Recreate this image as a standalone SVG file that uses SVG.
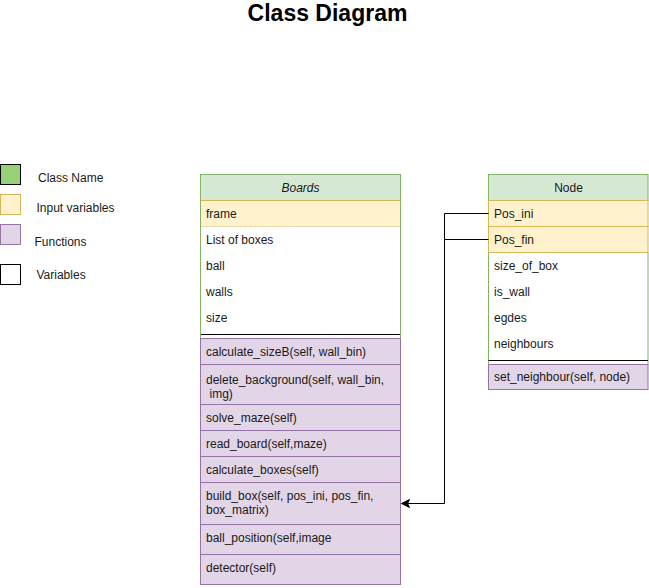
<svg xmlns="http://www.w3.org/2000/svg" width="649" height="588" viewBox="0 0 649 588">
<style>
text{font-family:"Liberation Sans",Arial,sans-serif;font-size:12px;fill:#1a1a1a}
.title{font-size:23px;font-weight:bold;fill:#000}
.hdr{fill:#d5e8d4;stroke:#82b366}
.inp{fill:#fff2cc;stroke:#d6b656}
.fn{fill:#e1d5e7;stroke:#9673a6}
.sep{stroke:#000;stroke-width:1}
.c{text-anchor:middle}
.conn{fill:none;stroke:#000;stroke-width:1}
</style>
<defs>
<marker id="arr" markerWidth="10" markerHeight="10" refX="9" refY="5" orient="auto" markerUnits="userSpaceOnUse">
<path d="M1,1 L9,5 L1,9 L3,5 Z" fill="#000" stroke="#000" stroke-width="1"/>
</marker>
</defs>
<rect width="649" height="588" fill="#fff"/>
<text class="title c" x="327.5" y="21">Class Diagram</text>

<g id="legend">
<rect x="0.5" y="164.5" width="20" height="20" fill="#97d077" stroke="#000"/>
<text x="38" y="182">Class Name</text>
<rect x="0.5" y="194.5" width="20" height="20" class="inp"/>
<text x="36.5" y="212">Input variables</text>
<rect x="0.5" y="224.5" width="20" height="20" class="fn"/>
<text x="34.5" y="245.5">Functions</text>
<rect x="0.5" y="264.5" width="20" height="20" fill="#fff" stroke="#000"/>
<text x="36.5" y="278.5">Variables</text>
</g>

<g id="boards">
<rect x="200.5" y="174.5" width="200" height="26" class="hdr"/>
<text class="c" x="300.5" y="191.5" font-style="italic">Boards</text>
<rect x="200.5" y="200.5" width="200" height="26" class="inp"/>
<text x="206" y="217.5">frame</text>
<rect x="200.5" y="226.5" width="200" height="112" fill="#fff" stroke="none"/>
<text x="206" y="243.5">List of boxes</text>
<text x="206" y="269.5">ball</text>
<text x="206" y="295.5">walls</text>
<text x="206" y="321.5">size</text>
<line x1="200.5" y1="334.5" x2="400.5" y2="334.5" class="sep"/>
<line x1="200.5" y1="200.5" x2="200.5" y2="338.5" stroke="#82b366"/>
<line x1="400.5" y1="200.5" x2="400.5" y2="338.5" stroke="#82b366"/>
<rect x="200.5" y="338.5" width="200" height="26" class="fn"/>
<text x="206" y="355.5">calculate_sizeB(self, wall_bin)</text>
<rect x="200.5" y="364.5" width="200" height="40" class="fn"/>
<text x="206" y="384">delete_background(self, wall_bin,</text>
<text x="209.5" y="398">img)</text>
<rect x="200.5" y="404.5" width="200" height="26" class="fn"/>
<text x="206" y="421.5">solve_maze(self)</text>
<rect x="200.5" y="430.5" width="200" height="26" class="fn"/>
<text x="206" y="447.5">read_board(self,maze)</text>
<rect x="200.5" y="456.5" width="200" height="26" class="fn"/>
<text x="206" y="473.5">calculate_boxes(self)</text>
<rect x="200.5" y="482.5" width="200" height="42" class="fn"/>
<text x="206" y="500">build_box(self, pos_ini, pos_fin,</text>
<text x="206" y="514">box_matrix)</text>
<rect x="200.5" y="524.5" width="200" height="30" class="fn"/>
<text x="206" y="542">ball_position(self,image</text>
<rect x="200.5" y="554.5" width="200" height="30" class="fn"/>
<text x="206" y="572">detector(self)</text>
</g>

<g id="node">
<rect x="488.5" y="174.5" width="159.5" height="26" class="hdr"/>
<text class="c" x="568.5" y="191.5">Node</text>
<rect x="488.5" y="200.5" width="159.5" height="26" class="inp"/>
<text x="494" y="217.5">Pos_ini</text>
<rect x="488.5" y="226.5" width="159.5" height="26" class="inp"/>
<text x="494" y="243.5">Pos_fin</text>
<text x="494" y="269.5">size_of_box</text>
<text x="494" y="295.5">is_wall</text>
<text x="494" y="321.5">egdes</text>
<text x="494" y="347.5">neighbours</text>
<line x1="488.5" y1="252.5" x2="488.5" y2="364.5" stroke="#82b366"/>
<line x1="648" y1="252.5" x2="648" y2="364.5" stroke="#82b366"/>
<line x1="488.5" y1="360.5" x2="648" y2="360.5" class="sep"/>
<rect x="488.5" y="364.5" width="159.5" height="25" class="fn"/>
<text x="494" y="381">set_neighbour(self, node)</text>
</g>

<g id="connectors">
<path class="conn" d="M488.5,213.5 H444.5 V503.5 H401.5" marker-end="url(#arr)"/>
<path class="conn" d="M488.5,239.5 H444.5"/>
</g>
</svg>
